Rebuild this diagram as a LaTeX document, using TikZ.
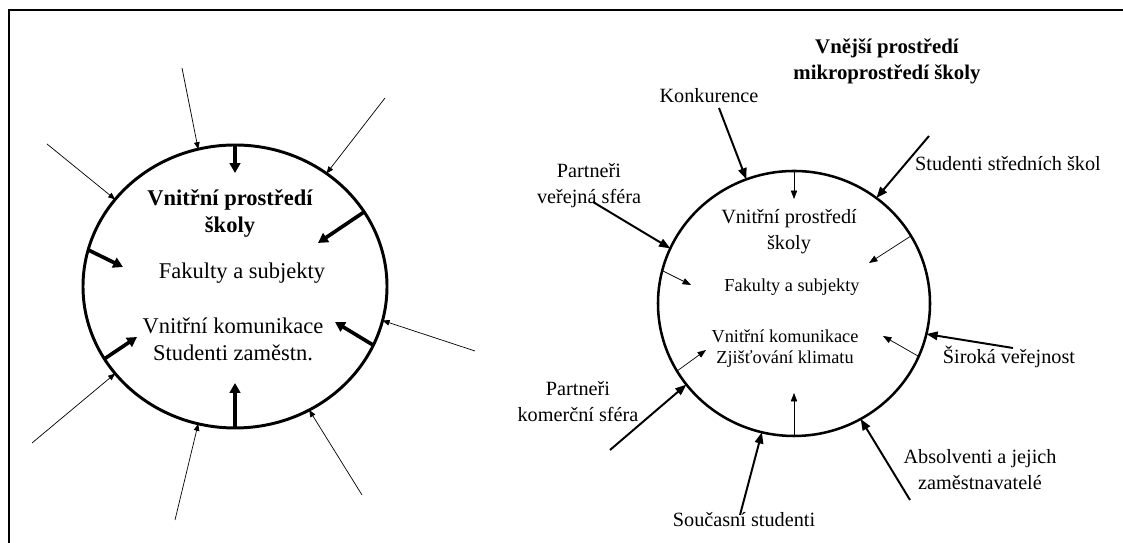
\documentclass[tikz,border=0pt]{standalone}
\usepackage{fontspec}
\setmainfont{Liberation Serif}
\usetikzlibrary{positioning,shapes.geometric,arrows.meta}

\tikzset{
  ring/.style={draw, ellipse, inner sep=0pt, outer sep=0pt},
  thinarr/.style={-{Triangle[length=5pt,width=4pt]}, line width=0.5pt},
  thickarr/.style={-{Triangle[length=7pt,width=7.5pt]}, line width=2.6pt},
  midarr/.style={-{Triangle[length=8pt,width=6pt]}, line width=1.4pt},
  innerarr/.style={-{Triangle[length=6pt,width=4.5pt]}, line width=0.5pt},
  headtext/.style={font=\fontsize{16}{19.2}\selectfont\bfseries, align=center},
  bigtext/.style={font=\fontsize{16}{19.2}\selectfont, align=center},
  lbl/.style={font=\fontsize{14.4}{18.5}\selectfont, align=center},
  lblhead/.style={font=\fontsize{14.8}{18.8}\selectfont\bfseries, align=center},
  smalltext/.style={font=\fontsize{13}{14.9}\selectfont, align=center}
}

\begin{document}
\begin{tikzpicture}
        \useasboundingbox (0,0) rectangle (28.075,13.575);
        \draw[line width=1.4pt] (28.075,13.325) -- (0.225,13.325) -- (0.225,0);

        % inner environment
        \node[ring, line width=2.1pt, minimum width=7.6cm, minimum height=7.075cm] (lcirc) at (5.875,6.4125) {};
        \node[headtext] (ltitle) at (5.75,8.2375) {Vnitřní prostředí\\školy};
        \node[bigtext] (lfak) at (6.05,6.75) {Fakulty a subjekty};
        \node[bigtext] (lkom) at (5.825,5.0875) {Vnitřní komunikace\\Studenti zaměstn.};

        \coordinate (lo1) at (4.55,11.875);
        \coordinate (lo2) at (9.625,11.125);
        \coordinate (lo3) at (1.175,9.975);
        \coordinate (lo4) at (11.875,4.8);
        \coordinate (lo5) at (0.8,2.5);
        \coordinate (lo6) at (4.375,0.575);
        \coordinate (lo7) at (9.05,1.2);

        \draw[thinarr] (lo1) -- (lcirc.105);
        \draw[thinarr] (lo2) -- (lcirc.51);
        \draw[thinarr] (lo3) -- (lcirc.144);
        \draw[thinarr] (lo4) -- (lcirc.-13);
        \draw[thinarr] (lo5) -- (lcirc.216);
        \draw[thinarr] (lo6) -- (lcirc.255);
        \draw[thinarr] (lo7) -- (lcirc.-59);

        \coordinate (li1) at (5.875,9.25);
        \coordinate (li2) at (7.95,7.5);
        \coordinate (li3) at (3.075,6.9);
        \coordinate (li4) at (8.375,5.525);
        \coordinate (li5) at (3.425,5.15);
        \coordinate (li6) at (5.875,4.0);

        \draw[thickarr] (lcirc.90) -- (li1);
        \draw[thickarr] (lcirc.30) -- (li2);
        \draw[thickarr] (lcirc.166) -- (li3);
        \draw[thickarr] (lcirc.-23) -- (li4);
        \draw[thickarr] (lcirc.209) -- (li5);
        \draw[thickarr] (lcirc.270) -- (li6);

        % outer environment
        \node[ring, line width=1.8pt, minimum width=6.8cm, minimum height=6.625cm] (rcirc) at (19.85,5.9875) {};
        \node[lbl] (rtitle) at (19.725,7.775) {Vnitřní prostředí\\školy};
        \node[smalltext] (rfak) at (19.8,6.4) {Fakulty a subjekty};
        \node[smalltext] (rkom) at (19.625,4.8625) {Vnitřní komunikace\\Zjišťování klimatu};

        \node[lblhead] (vnejsi) at (22.175,12.04) {Vnější prostředí\\mikroprostředí školy};
        \node[lbl] (konk) at (17.725,11.175) {Konkurence};
        \node[lbl] (stss) at (25.2,9.475) {Studenti středních škol};
        \node[lbl] (pver) at (14.725,8.925) {Partneři\\veřejná sféra};
        \node[lbl] (pkom) at (14.45,3.525) {Partneři\\komerční sféra};
        \node[lbl] (siroka) at (25.225,4.65) {Široká veřejnost};
        \node[lbl] (absol) at (24.5,1.825) {Absolventi a jejich\\zaměstnavatelé};
        \node[lbl] (soucas) at (18.6,0.575) {Současní studenti};

        \coordinate (ro1) at (17.975,10.875);
        \coordinate (ro2) at (23.225,10.175);
        \coordinate (ro3) at (14.825,8.525);
        \coordinate (ro4) at (15.25,2.325);
        \coordinate (ro5) at (18.5,0.7);
        \coordinate (ro6) at (22.75,1.075);
        \coordinate (ro7) at (25.325,4.875);

        \draw[midarr] (ro1) -- (rcirc.111);
        \draw[midarr] (ro2) -- (rcirc.52);
        \draw[midarr] (ro3) -- (rcirc.156);
        \draw[midarr] (ro4) -- (rcirc.217);
        \draw[midarr] (ro5) -- (rcirc.256);
        \draw[midarr] (ro6) -- (rcirc.-60);
        \draw[midarr] (ro7) -- (rcirc.-13);

        \coordinate (ri1) at (19.85,8.6);
        \coordinate (ri2) at (21.725,7.0);
        \coordinate (ri3) at (17.275,6.45);
        \coordinate (ri4) at (22.075,5.175);
        \coordinate (ri5) at (17.65,4.825);
        \coordinate (ri6) at (19.85,3.75);

        \draw[innerarr] (rcirc.90) -- (ri1);
        \draw[innerarr] (rcirc.30) -- (ri2);
        \draw[innerarr] (rcirc.166) -- (ri3);
        \draw[innerarr] (rcirc.-23) -- (ri4);
        \draw[innerarr] (rcirc.210) -- (ri5);
        \draw[innerarr] (rcirc.270) -- (ri6);
\end{tikzpicture}
\end{document}
